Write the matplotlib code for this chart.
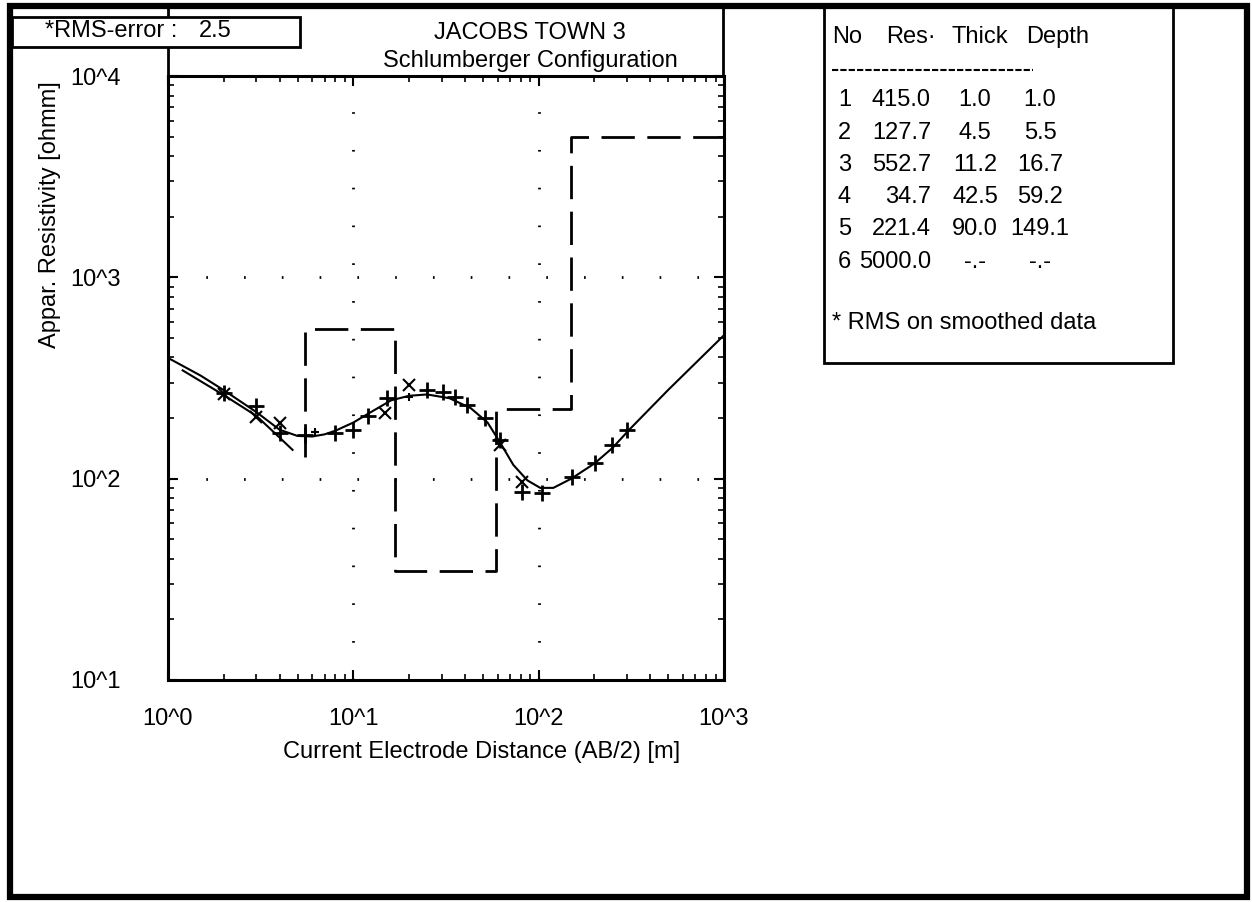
import numpy as np
import matplotlib.pyplot as plt
from matplotlib.patches import Rectangle
from matplotlib.lines import Line2D

plt.rcParams['font.family'] = ['Liberation Sans', 'DejaVu Sans']

# calculated sounding curve
ab2_calc = [1.0, 1.5, 2, 3, 4, 5, 6, 7, 8, 10, 12, 16, 20, 25, 33, 43, 53, 62, 73, 87,
            102, 120, 150, 200, 250, 310, 500, 1000]
rho_calc = [398, 325, 275, 214, 175, 163, 162, 166, 173, 190, 210, 245, 258, 262, 251, 224,
            190, 151, 117, 98, 90, 90, 100, 119, 142, 176, 276, 516]

# short second curve at small spacings
ab2_short = [1.2, 2, 3, 4, 4.7]
rho_short = [345, 260, 205, 160, 139]

# field data (+)
ab2_field = [2, 3, 4, 5.5, 8, 10, 12, 15.2, 25, 30.5, 35.3, 41, 51.4, 62, 81.5, 104,
             151, 201, 249, 300]
rho_field = [265, 230, 169, 165, 169, 174, 204, 251, 275, 269, 254, 232, 200, 155, 86, 85,
             102, 119, 147, 174]

# small + marks
ab2_small = [6.2, 20]
rho_small = [170, 254]

# smoothed data (x)
ab2_smth = [2, 3, 4, 14.8, 20, 62, 81.5]
rho_smth = [262, 202, 190, 212, 292, 147, 96]

# layer model
layer_no = [1, 2, 3, 4, 5, 6]
layer_res = [415.0, 127.7, 552.7, 34.7, 221.4, 5000.0]
layer_thick = [1.0, 4.5, 11.2, 42.5, 90.0, None]
layer_depth = [1.0, 5.5, 16.7, 59.2, 149.1, None]
rms_error = 2.5

FS = 17
W, H = 1252, 902
fig = plt.figure(figsize=(W / 100, H / 100), dpi=100)


def fx(x):
    return x / W


def fy(y):
    return 1 - y / H


ax = fig.add_axes([fx(168), fy(680), fx(724) - fx(168), fy(76) - fy(680)])
ax.set_xscale('log')
ax.set_yscale('log')
ax.set_xlim(1, 1000)
ax.set_ylim(10, 10000)

ax.grid(True, which='major', color='black', linestyle=(0, (0.6, 13)), linewidth=2)

# step model, drawn from the base of layer 2
mx = [layer_depth[1]]
my = [layer_res[1]]
for i in range(2, len(layer_res)):
    right = layer_depth[i] if layer_depth[i] is not None else 1000
    mx += [layer_depth[i - 1], right]
    my += [layer_res[i], layer_res[i]]
ax.plot(mx, my, color='black', linewidth=2, linestyle=(0, (12, 4.5)))

ax.plot(ab2_calc, rho_calc, color='black', linewidth=1.5)
ax.plot(ab2_short, rho_short, color='black', linewidth=1.5)
ax.plot(ab2_field, rho_field, linestyle='none', marker='+', markersize=11,
        markeredgewidth=2, color='black')
ax.plot(ab2_small, rho_small, linestyle='none', marker='+', markersize=6,
        markeredgewidth=1.5, color='black')
ax.plot(ab2_smth, rho_smth, linestyle='none', marker='x', markersize=8,
        markeredgewidth=1.5, color='black')

ax.set_xticks([1, 10, 100, 1000])
ax.set_xticklabels(['10^0', '10^1', '10^2', '10^3'])
ax.set_yticks([10, 100, 1000, 10000])
ax.set_yticklabels(['10^1', '10^2', '10^3', '10^4'])
ax.tick_params(which='both', direction='in', top=True, right=True, colors='black',
               labelsize=FS)
ax.tick_params(which='major', length=7, width=1.5)
ax.tick_params(which='minor', length=4, width=1.2)
ax.tick_params(axis='y', which='major', pad=34)
ax.tick_params(axis='x', which='major', pad=20)
for s in ax.spines.values():
    s.set_linewidth(2.2)

# frame lines above the plot
fig.add_artist(Line2D([fx(168), fx(168)], [fy(76), fy(5)], color='black', linewidth=2))
fig.add_artist(Line2D([fx(723), fx(723)], [fy(76), fy(5)], color='black', linewidth=2))

# outer border
fig.add_artist(Rectangle((fx(10), fy(897)), fx(1247) - fx(10), fy(6) - fy(897),
                         fill=False, edgecolor='black', linewidth=4.5))

# titles
fig.text(fx(530), fy(33), 'JACOBS TOWN 3', ha='center', va='center', fontsize=FS)
fig.text(fx(530), fy(61), 'Schlumberger Configuration', ha='center', va='center', fontsize=FS)

# rms box
fig.add_artist(Rectangle((fx(12), fy(47)), fx(300) - fx(12), fy(17) - fy(47),
                         facecolor='white', edgecolor='black', linewidth=2, zorder=5))
fig.text(fx(45), fy(31), '*RMS-error :', ha='left', va='center', fontsize=FS, zorder=6)
fig.text(fx(199), fy(31), '%.1f' % rms_error, ha='left', va='center', fontsize=FS, zorder=6)

# axis titles
fig.text(fx(50), fy(215), 'Appar. Resistivity [ohmm]', rotation=90, ha='center',
         va='center', fontsize=FS)
fig.text(fx(482), fy(752), 'Current Electrode Distance (AB/2) [m]', ha='center',
         va='center', fontsize=FS)

# layer table
fig.add_artist(Rectangle((fx(824), fy(363)), fx(1173) - fx(824), fy(6) - fy(363),
                         fill=False, edgecolor='black', linewidth=2))
fig.text(fx(832), fy(37), 'No', ha='left', va='center', fontsize=FS)
fig.text(fx(936), fy(37), 'Res·', ha='right', va='center', fontsize=FS)
fig.text(fx(980), fy(37), 'Thick', ha='center', va='center', fontsize=FS)
fig.text(fx(1058), fy(37), 'Depth', ha='center', va='center', fontsize=FS)
fig.add_artist(Line2D([fx(832), fx(1033)], [fy(70), fy(70)], color='black', linewidth=1.5,
                      linestyle=(0, (3, 1))))

row_y = [100, 133, 165, 197, 229, 262]
for k in range(len(layer_no)):
    th = '-.-' if layer_thick[k] is None else '%.1f' % layer_thick[k]
    dp = '-.-' if layer_depth[k] is None else '%.1f' % layer_depth[k]
    fig.text(fx(838), fy(row_y[k]), str(layer_no[k]), ha='left', va='center', fontsize=FS)
    fig.text(fx(931), fy(row_y[k]), '%.1f' % layer_res[k], ha='right', va='center', fontsize=FS)
    fig.text(fx(975), fy(row_y[k]), th, ha='center', va='center', fontsize=FS)
    fig.text(fx(1040), fy(row_y[k]), dp, ha='center', va='center', fontsize=FS)

fig.text(fx(832), fy(323), '* RMS on smoothed data', ha='left', va='center', fontsize=FS)

fig.savefig('out.png', dpi=100, facecolor='white')
